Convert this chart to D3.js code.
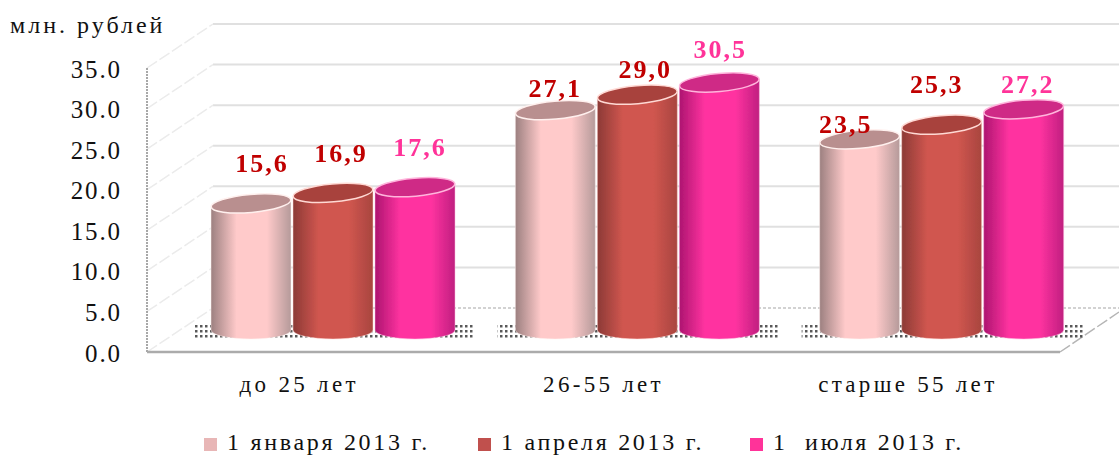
<!DOCTYPE html>
<html>
<head>
<meta charset="utf-8">
<script src="https://cdn.jsdelivr.net/npm/d3@7"></script>
<style>
body { margin: 0; background: #fff; }
text { font-family: "Liberation Serif", serif; }
</style>
</head>
<body>
<script>
const categories = ["до 25 лет", "26-55 лет", "старше 55 лет"];
const seriesNames = ["1 января 2013 г.", "1 апреля 2013 г.", "1  июля 2013 г."];
const january = [15.6, 27.1, 23.5];
const april = [16.9, 29.0, 25.3];
const july = [17.6, 30.5, 27.2];
const valueLabels = [["15,6", "27,1", "23,5"], ["16,9", "29,0", "25,3"], ["17,6", "30,5", "27,2"]];
const yTicks = [0, 5, 10, 15, 20, 25, 30, 35];

const seriesValues = [january, april, july];
const leftColors = ["#9c8080", "#8c3a36", "#ad1570"];
const midColors = ["#ffcaca", "#d0564f", "#ff33a0"];
const rightColors = ["#b59a9a", "#a8453f", "#c01f80"];
const topColors = ["#b98f8f", "#a8423d", "#cf2a86"];
const rimColors = ["#fff0ee", "#ffd9d4", "#ffb5dc"];
const labelColors = ["#c00000", "#c00000", "#ff3399"];
const legendColors = ["#e8b6b6", "#c0504d", "#ff3399"];
// hand placed in the original, offset from bar centre / bar top
const labelNudge = [
    [[11, -31], [0, -13], [-14, -6]],
    [[8, -31], [8, -17], [-5, -32]],
    [[5, -31], [1, -25], [4, -16]]
];

const width = 1119, height = 456;
const depthX = 66, depthY = 44;
const barDepthY = 22, capRy = 9;

const svg = d3.select("body").append("svg")
    .attr("width", width)
    .attr("height", height)
    .style("display", "block");

const x = d3.scaleBand().domain(categories).range([147, 1060]);
const xSeries = d3.scaleBand().domain(d3.range(3)).range([63, 309]);
const y = d3.scaleLinear().domain([0, 35]).range([352, 68]);

const defs = svg.append("defs");
defs.append("filter").attr("id", "soft")
    .append("feGaussianBlur").attr("stdDeviation", 0.6);
const dots = defs.append("pattern").attr("id", "floorDots")
    .attr("width", 5).attr("height", 5)
    .attr("patternUnits", "userSpaceOnUse");
dots.append("rect").attr("width", 2.5).attr("height", 2.5).attr("fill", "#222");

seriesValues.forEach((s, i) => {
    const g = defs.append("linearGradient").attr("id", "bar" + i);
    g.append("stop").attr("offset", "0%").attr("stop-color", leftColors[i]);
    g.append("stop").attr("offset", "32%").attr("stop-color", midColors[i]);
    g.append("stop").attr("offset", "70%").attr("stop-color", midColors[i]);
    g.append("stop").attr("offset", "100%").attr("stop-color", rightColors[i]);
});

// walls
const walls = svg.append("g").attr("filter", "url(#soft)");

walls.selectAll(".grid")
    .data(yTicks)
    .enter()
    .append("line")
    .attr("x1", 147 + depthX)
    .attr("x2", width)
    .attr("y1", d => y(d) - depthY)
    .attr("y2", d => y(d) - depthY)
    .attr("stroke", d => d === 0 ? "#c4c4c4" : "#e0e0e0")
    .attr("stroke-width", d => d === 0 ? 1.5 : 2)
    .attr("stroke-dasharray", d => d === 0 ? "3,2" : null);

walls.selectAll(".diag")
    .data(yTicks)
    .enter()
    .append("line")
    .attr("x1", 147)
    .attr("x2", 147 + depthX)
    .attr("y1", d => y(d))
    .attr("y2", d => y(d) - depthY)
    .attr("stroke", "#ebebeb")
    .attr("stroke-width", 1.5)
    .attr("stroke-dasharray", "12,3");

walls.append("line")
    .attr("x1", 147).attr("x2", 147)
    .attr("y1", y(35)).attr("y2", y(0))
    .attr("stroke", "#8c8c8c")
    .attr("stroke-width", 1.5)
    .attr("stroke-dasharray", "2,1");

walls.append("line")
    .attr("x1", 147).attr("x2", 1060)
    .attr("y1", y(0)).attr("y2", y(0))
    .attr("stroke", "#ababab")
    .attr("stroke-width", 2.5);

walls.append("line")
    .attr("x1", 1060).attr("x2", width)
    .attr("y1", y(0)).attr("y2", y(0) - 40)
    .attr("stroke", "#b5b5b5")
    .attr("stroke-width", 1.5)
    .attr("stroke-dasharray", "12,3");

// dotted shadow on the floor
const floor = svg.append("g").attr("filter", "url(#soft)");
floor.selectAll("rect")
    .data(categories)
    .enter()
    .append("rect")
    .attr("x", d => x(d) + 46)
    .attr("y", 325)
    .attr("width", 282)
    .attr("height", 15)
    .attr("fill", "url(#floorDots)")
    .attr("opacity", 0.75);

// cylinders
const bars = svg.append("g").attr("filter", "url(#soft)");
const tilt = -5;

seriesValues.forEach((values, i) => {
    values.forEach((v, j) => {
        const left = x(categories[j]) + xSeries(i);
        const w = xSeries.bandwidth();
        const rx = w / 2 - 1;
        const cx = left + w / 2;
        const base = y(0) - barDepthY;
        const top = y(v) - barDepthY;
        const rise = rx * Math.sin(-tilt * Math.PI / 180);

        bars.append("path")
            .attr("d", "M" + (cx - rx) + "," + (top + rise)
                + "L" + (cx - rx) + "," + base
                + "A" + rx + "," + capRy + " 0 0 0 " + (cx + rx) + "," + base
                + "L" + (cx + rx) + "," + (top - rise) + "Z")
            .attr("fill", "url(#bar" + i + ")")
            .attr("stroke", rimColors[i])
            .attr("stroke-width", 0.5);

        bars.append("ellipse")
            .attr("cx", cx)
            .attr("cy", top)
            .attr("rx", rx)
            .attr("ry", capRy)
            .attr("transform", "rotate(" + tilt + " " + cx + " " + top + ")")
            .attr("fill", topColors[i])
            .attr("stroke", rimColors[i])
            .attr("stroke-width", 1.5);

        svg.append("text")
            .attr("x", cx + labelNudge[i][j][0])
            .attr("y", top + labelNudge[i][j][1])
            .attr("text-anchor", "middle")
            .style("font-size", "26px")
            .style("font-weight", "bold")
            .style("letter-spacing", "2px")
            .style("fill", labelColors[i])
            .text(valueLabels[i][j]);
    });
});

// axes
const yAxis = d3.axisLeft(y)
    .tickValues(yTicks)
    .tickSize(0)
    .tickPadding(0)
    .tickFormat(d3.format(".1f"));

const yG = svg.append("g")
    .attr("transform", "translate(122,1)")
    .call(yAxis);
yG.select(".domain").remove();
yG.selectAll("text")
    .style("font-family", "Liberation Serif")
    .style("font-size", "25px")
    .style("letter-spacing", "1.9px")
    .style("fill", "#111");

const xAxis = d3.axisBottom(x).tickSize(0).tickPadding(0);
const xG = svg.append("g")
    .attr("transform", "translate(0,376)")
    .call(xAxis);
xG.select(".domain").remove();
xG.selectAll("text")
    .style("font-family", "Liberation Serif")
    .style("font-size", "23px")
    .style("letter-spacing", "3.3px")
    .style("fill", "#111");

svg.append("text")
    .attr("x", 10)
    .attr("y", 33)
    .style("font-size", "24px")
    .style("letter-spacing", "3px")
    .style("fill", "#111")
    .text("млн. рублей");

// legend
const legendX = [204, 478, 750];
const legend = svg.selectAll(".legend")
    .data(seriesNames)
    .enter()
    .append("g")
    .attr("transform", (d, i) => "translate(" + legendX[i] + ",0)");

legend.append("rect")
    .attr("y", 438)
    .attr("width", 13)
    .attr("height", 13)
    .attr("fill", (d, i) => legendColors[i]);

legend.append("text")
    .attr("x", 23)
    .attr("y", 450)
    .style("font-size", "24px")
    .style("letter-spacing", "2.7px")
    .style("white-space", "pre")
    .style("fill", "#111")
    .text(d => d);
</script>
</body>
</html>
